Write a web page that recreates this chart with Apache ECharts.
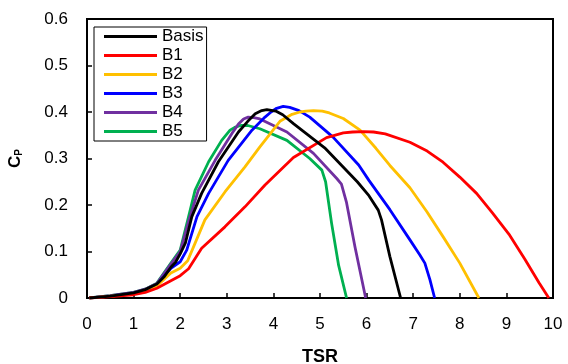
<!DOCTYPE html>
<html>
<head>
<meta charset="utf-8">
<script src="https://cdn.jsdelivr.net/npm/echarts@6/dist/echarts.min.js"></script>
<style>
html,body{margin:0;padding:0;background:#fff;}
#chart{width:568px;height:364px;}
</style>
</head>
<body>
<div id="chart"></div>
<script>
// ---- data ----
const seriesNames = ['Basis', 'B1', 'B2', 'B3', 'B4', 'B5'];
const xTicks = [0, 1, 2, 3, 4, 5, 6, 7, 8, 9, 10];
const yTicks = [0, 0.1, 0.2, 0.3, 0.4, 0.5, 0.6];

const basisTsr = [0.05, 0.5, 1.0, 1.25, 1.5, 1.65, 1.8, 1.9, 2.0, 2.11, 2.25, 2.46, 2.82, 3.25, 3.45, 3.61, 3.75, 3.86, 4.05, 4.2, 4.43, 5.1, 5.8, 6.05, 6.25, 6.32, 6.5, 6.73];
const basisCp  = [0, 0.004, 0.011, 0.018, 0.030, 0.045, 0.066, 0.077, 0.095, 0.118, 0.175, 0.225, 0.293, 0.357, 0.380, 0.396, 0.403, 0.405, 0.402, 0.394, 0.375, 0.323, 0.250, 0.220, 0.189, 0.168, 0.089, 0];

const b1Tsr = [0.05, 0.5, 1.0, 1.25, 1.5, 1.8, 2.0, 2.18, 2.46, 2.96, 3.39, 3.82, 4.43, 5.14, 5.5, 5.7, 5.93, 6.15, 6.4, 6.93, 7.3, 7.64, 8.0, 8.36, 8.7, 9.07, 9.4, 9.7, 9.91];
const b1Cp  = [0, 0.003, 0.007, 0.012, 0.021, 0.037, 0.048, 0.063, 0.107, 0.153, 0.196, 0.243, 0.302, 0.345, 0.355, 0.357, 0.358, 0.357, 0.353, 0.335, 0.316, 0.292, 0.260, 0.225, 0.183, 0.135, 0.083, 0.033, 0];

const b2Tsr = [0.05, 0.5, 1.0, 1.25, 1.5, 1.8, 2.0, 2.16, 2.32, 2.53, 2.96, 3.39, 3.71, 3.82, 4.14, 4.4, 4.57, 4.7, 4.86, 5.05, 5.2, 5.5, 5.86, 6.2, 6.5, 6.93, 7.29, 7.64, 8.0, 8.41];
const b2Cp  = [0, 0.004, 0.009, 0.015, 0.026, 0.054, 0.064, 0.080, 0.118, 0.168, 0.228, 0.282, 0.325, 0.339, 0.380, 0.395, 0.400, 0.402, 0.403, 0.402, 0.398, 0.386, 0.361, 0.322, 0.285, 0.237, 0.186, 0.132, 0.075, 0];

const b3Tsr = [0.05, 0.5, 1.0, 1.25, 1.5, 1.8, 2.0, 2.14, 2.36, 2.61, 3.03, 3.54, 3.82, 3.95, 4.07, 4.21, 4.35, 4.55, 4.78, 5.28, 5.83, 6.05, 6.5, 6.93, 7.14, 7.25, 7.36, 7.46];
const b3Cp  = [0, 0.004, 0.010, 0.016, 0.028, 0.064, 0.078, 0.103, 0.175, 0.225, 0.296, 0.361, 0.389, 0.400, 0.408, 0.412, 0.410, 0.403, 0.389, 0.346, 0.286, 0.253, 0.190, 0.125, 0.093, 0.075, 0.039, 0];

const b4Tsr = [0.05, 0.5, 1.0, 1.25, 1.5, 1.8, 2.0, 2.18, 2.39, 2.75, 3.11, 3.25, 3.36, 3.46, 3.58, 3.71, 4.29, 4.86, 5.36, 5.46, 5.57, 5.75, 5.98];
const b4Cp  = [0, 0.005, 0.012, 0.019, 0.031, 0.073, 0.100, 0.165, 0.232, 0.296, 0.354, 0.374, 0.385, 0.389, 0.388, 0.385, 0.357, 0.311, 0.257, 0.245, 0.205, 0.110, 0];

const b5Tsr = [0.05, 0.5, 1.0, 1.25, 1.5, 1.8, 2.0, 2.18, 2.32, 2.61, 2.89, 3.07, 3.17, 3.3, 3.45, 3.71, 4.29, 4.78, 5.04, 5.12, 5.25, 5.4, 5.57];
const b5Cp  = [0, 0.005, 0.012, 0.019, 0.032, 0.075, 0.103, 0.175, 0.232, 0.293, 0.339, 0.361, 0.367, 0.371, 0.371, 0.364, 0.339, 0.300, 0.275, 0.250, 0.160, 0.070, 0];

const colors = ['#000000', '#FF0000', '#FFC000', '#0000FF', '#7030A0', '#00B050'];

const allTsr = [basisTsr, b1Tsr, b2Tsr, b3Tsr, b4Tsr, b5Tsr];
const allCp = [basisCp, b1Cp, b2Cp, b3Cp, b4Cp, b5Cp];

const FONT = '"Liberation Sans", Arial, sans-serif';

const chart = echarts.init(document.getElementById('chart'), null, {renderer: 'canvas'});

const series = seriesNames.map((name, i) => ({
  name: name,
  type: 'line',
  data: allTsr[i].map((x, j) => [x, allCp[i][j]]),
  symbol: 'none',
  smooth: false,
  lineStyle: {color: colors[i], width: 2.8, join: 'round'},
  itemStyle: {color: colors[i]},
  z: 10 - i
}));

chart.setOption({
  animation: false,
  backgroundColor: '#ffffff',
  textStyle: {fontFamily: FONT},
  grid: {
    left: 87, right: 15, top: 19, bottom: 66,
    outerBoundsMode: 'none',
    containLabel: false,
    show: true, borderColor: '#000', borderWidth: 2, backgroundColor: 'transparent'
  },
  legend: {
    data: seriesNames,
    orient: 'vertical',
    left: 94, top: 27,
    padding: [0, 3, 0, 10],
    itemGap: 0,
    itemWidth: 53,
    itemHeight: 3,
    icon: 'rect',
    backgroundColor: '#fff',
    borderColor: '#000',
    borderWidth: 1,
    borderRadius: 0,
    textStyle: {fontFamily: FONT, fontSize: 17, color: '#000', lineHeight: 19, padding: [0, 0, 0, 0]}
  },
  xAxis: {
    type: 'value',
    min: xTicks[0], max: xTicks[xTicks.length - 1], interval: 1,
    name: 'TSR',
    nameLocation: 'middle',
    nameGap: 50,
    nameTextStyle: {fontFamily: FONT, fontSize: 18, fontWeight: 'bold', color: '#000'},
    axisLine: {show: true, lineStyle: {color: '#000', width: 2}},
    axisTick: {show: true, inside: true, length: 5, lineStyle: {color: '#000', width: 1.5}},
    axisLabel: {color: '#000', fontSize: 17, fontFamily: FONT, margin: 18},
    splitLine: {show: false}
  },
  yAxis: {
    type: 'value',
    min: yTicks[0], max: yTicks[yTicks.length - 1], interval: 0.1,
    name: '{c|C}{p|P}',
    nameLocation: 'middle',
    nameGap: 63,
    nameRotate: 90,
    nameTextStyle: {
      rich: {
        c: {fontFamily: FONT, fontSize: 17, fontWeight: 'bold', color: '#000'},
        p: {fontFamily: FONT, fontSize: 10, fontWeight: 'bold', color: '#000', verticalAlign: 'bottom', padding: [6, 0, 0, 0]}
      }
    },
    axisLine: {show: true, lineStyle: {color: '#000', width: 2}},
    axisTick: {show: true, inside: true, length: 5, lineStyle: {color: '#000', width: 1.5}},
    axisLabel: {color: '#000', fontSize: 17, fontFamily: FONT, margin: 19,
      formatter: v => String(Math.round(v * 10) / 10)},
    splitLine: {show: false}
  },
  series: series
});
</script>
</body>
</html>
